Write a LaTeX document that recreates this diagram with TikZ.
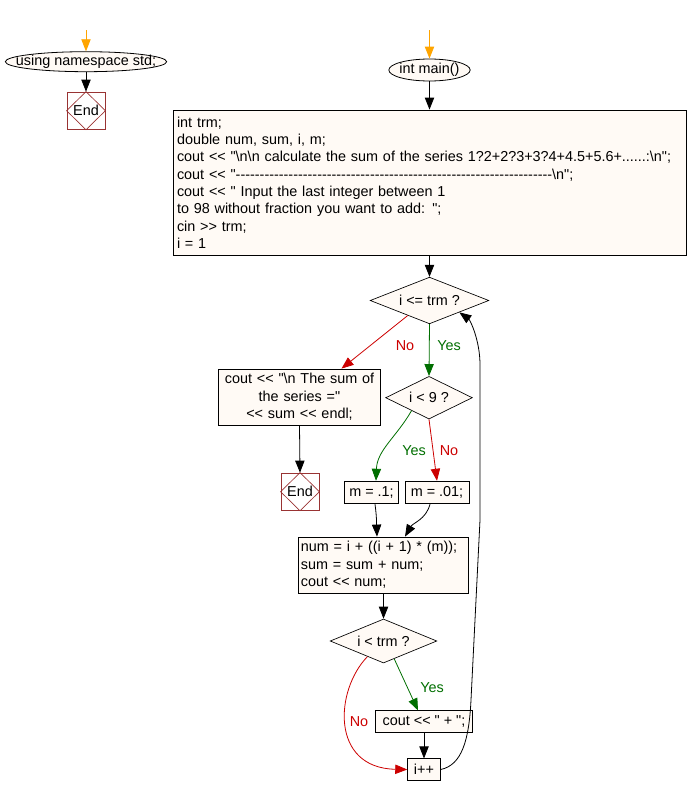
\documentclass[tikz,border=0pt]{standalone}
\usepackage{fontspec}
\setmainfont{Liberation Sans}[Ligatures=TeXOff]
\usetikzlibrary{shapes.geometric,arrows.meta,calc}
\definecolor{boxfill}{RGB}{255,250,245}
\definecolor{endred}{RGB}{153,51,51}
\definecolor{yesgreen}{RGB}{0,110,0}
\definecolor{nored}{RGB}{204,0,0}
\definecolor{startorange}{RGB}{255,165,0}

\begin{document}
\begin{tikzpicture}[x=0.75pt, y=-0.75pt,
  font=\fontsize{10.8}{13}\selectfont,
  term/.style={draw, ellipse, fill=boxfill, line width=0.6pt, inner xsep=-12pt, inner ysep=-2pt},
  proc/.style={draw, rectangle, fill=boxfill, line width=0.6pt, inner xsep=2pt, inner ysep=1pt},
  decide/.style={draw, diamond, aspect=2.5, fill=boxfill, line width=0.5pt, inner sep=0pt},
  endbox/.style={draw=endred, rectangle, line width=0.6pt, minimum width=28.5pt, minimum height=28pt, inner sep=0pt},
  arr/.style={line width=0.6pt, -{Triangle[length=9pt,width=7pt]}},
  yesarr/.style={arr, yesgreen},
  noarr/.style={arr, nored},
  yeslbl/.style={text=yesgreen},
  nolbl/.style={text=nored}]
\useasboundingbox (0,0) rectangle (687,796);

% left part
\coordinate (s1) at (86,30);
\node[term, minimum width=121pt, minimum height=15pt] (ns) at (86,61.7) {using namespace std;};
\node[endbox] (end1) at (86,110.7) {End};

% main part
\coordinate (s2) at (429.5,30);
\node[term, minimum width=61pt, minimum height=16.5pt] (main) at (429.5,70) {int main()};
\node[proc, text width=378.75pt, align=left, minimum height=108.75pt, inner xsep=3pt] (init) at (429.5,182.5) {int trm;\\
double num, sum, i, m;\\
cout << "\textbackslash n\textbackslash n calculate the sum of the series 1?2+2?3+3?4+4.5+5.6+......:\textbackslash n";\\
cout << "------------------------------------------------------------------\textbackslash n";\\
cout << " Input the last integer between 1\\
to 98 without fraction you want to add: ";\\
cin >> trm;\\
i = 1};
\node[decide, minimum width=89pt, minimum height=35pt] (c1) at (429.5,300.5) {i <= trm ?};
\node[proc, text width=118pt, align=center, minimum height=42pt] (sumout) at (299.5,397) {cout << "\textbackslash n The sum of\\ the series ="\\ << sum << endl;};
\node[endbox] (end2) at (300,491.7) {End};
\node[decide, minimum width=65pt, minimum height=32pt] (c2) at (429,397.7) {i < 9 ?};
\node[proc, minimum width=41pt, minimum height=17pt] (m1) at (371.5,492.5) {m = .1;};
\node[proc, minimum width=48pt, minimum height=17pt] (m2) at (437,492.5) {m = .01;};
\node[proc, text width=124pt, align=left, minimum height=42pt] (num) at (383.5,565) {num = i + ((i + 1) * (m));\\
sum = sum + num;\\
cout << num;};
\node[decide, minimum width=80pt, minimum height=33pt] (c3) at (383.5,641) {i < trm ?};
\node[proc, minimum width=72.7pt, minimum height=16pt] (plus) at (424,721.5) {cout << " + ";};
\node[proc, minimum width=24.5pt, minimum height=16pt] (iinc) at (424,769.5) {i++};

% diamonds inside the End boxes
\foreach \e in {end1,end2}
\draw[endred, line width=0.5pt] (\e.north) -- (\e.east) -- (\e.south) -- (\e.west) -- cycle;

% labels
\node[nolbl] (lno1) at (405,346) {No};
\node[yeslbl] (lyes1) at (449,346) {Yes};
\node[yeslbl] (lyes2) at (414,451) {Yes};
\node[nolbl] (lno2) at (449,451) {No};
\node[yeslbl] (lyes3) at (432,688) {Yes};
\node[nolbl] (lno3) at (359,722) {No};

% connectors
\draw[arr, startorange] (s1) -- (ns.north);
\draw[arr] (ns.south) -- (end1.north);
\draw[arr, startorange] (s2) -- (main.north);
\draw[arr] (main.south) -- (init.north);
\draw[arr] (init.south) -- (c1.north);
\draw[noarr] ($(c1.south west)!0.27!(c1.south)$) -- ($(sumout.north)+(42,0)$);
\draw[yesarr] (c1.south) -- (c2.north);
\draw[arr] (sumout.south) -- (end2.north);
\draw[yesarr] ($(c2.south west)!0.2!(c2.south)$) to[out=-120, in=88] ($(m1.north)+(4.5,0)$);
\draw[noarr] (c2.south) -- (m2.north);
\draw[arr] ($(m1.south)+(3.5,0)$) to[out=-82, in=92] ($(num.north)+(-6.5,0)$);
\draw[arr] ($(m2.south)+(-7,0)$) to[out=-105, in=60] ($(num.north)+(21.5,0)$);
\draw[arr] (num.south) -- (c3.north);
\draw[yesarr] ($(c3.south)!0.2!(c3.east)$) -- ($(plus.north)+(-6,0)$);
\draw[noarr] ($(c3.south)!0.3!(c3.west)$) .. controls (335,690) and (330,768) .. (iinc.west);
\draw[arr] (plus.south) -- (iinc.north);
\draw[arr] (iinc.east) .. controls (462,765) and (469,740) .. (471,700) -- (480,520) -- (480,365) .. controls (480,340) and (470,320) .. (c1.south east);
\end{tikzpicture}
\end{document}
